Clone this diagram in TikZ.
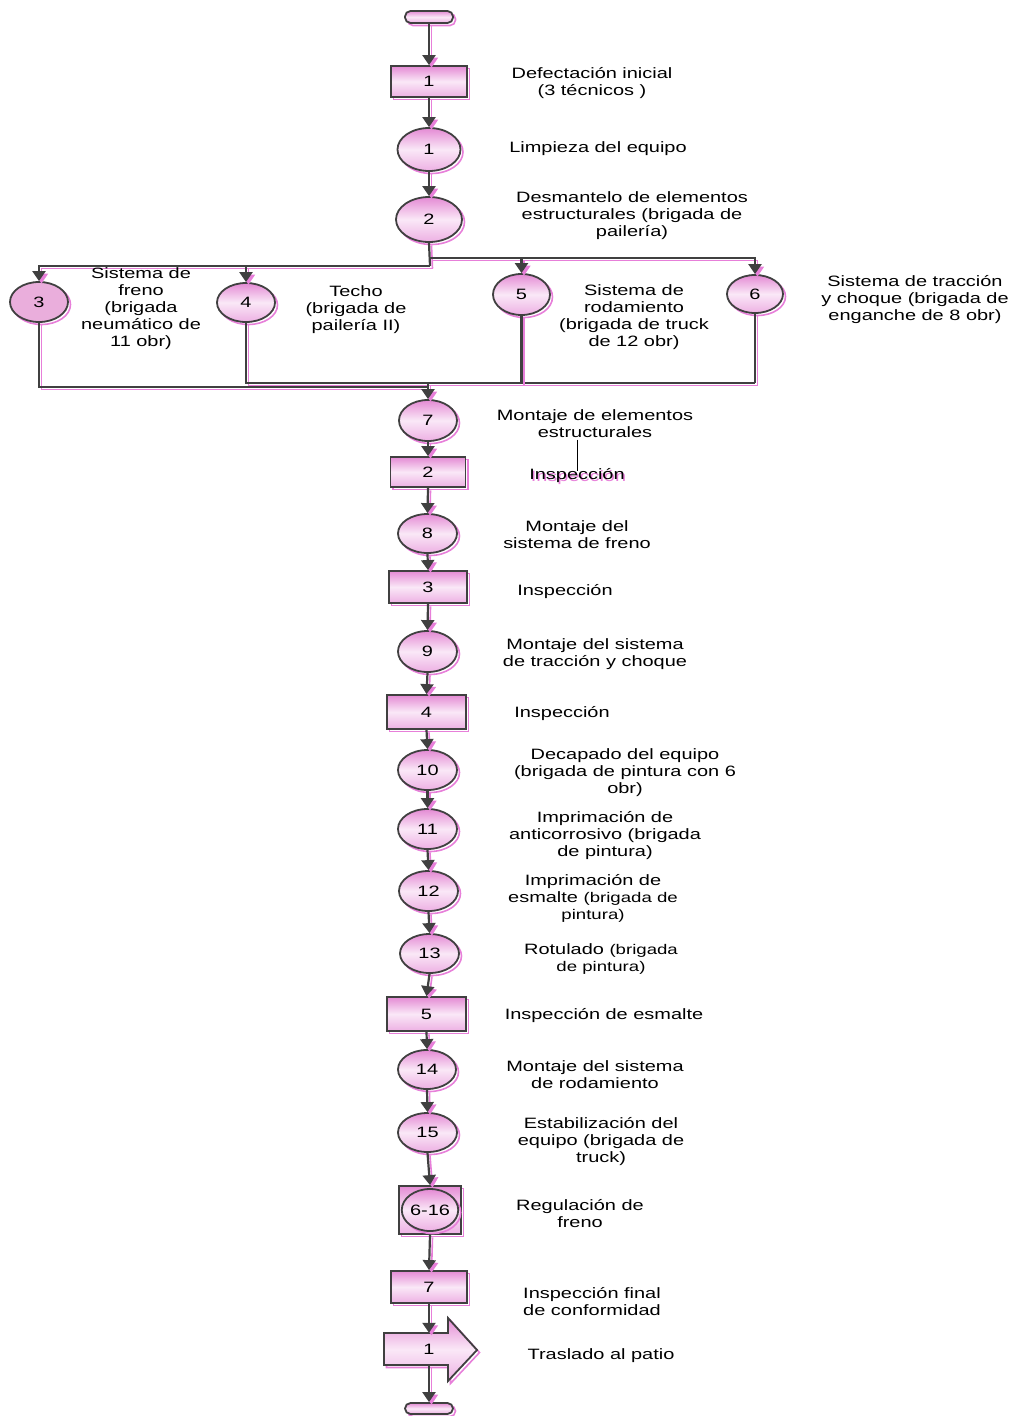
\documentclass[tikz,border=0pt]{standalone}
\usepackage{fontspec}
\setmainfont{Liberation Sans}[FakeStretch=1.33]
\usetikzlibrary{shapes.geometric,arrows.meta,shadows}
\definecolor{lc}{HTML}{404040}
\definecolor{shpk}{HTML}{E77FD9}
\definecolor{pkTop}{HTML}{E48AD4}
\definecolor{pkMid}{HTML}{FAE8F7}
\definecolor{pkBot}{HTML}{EDB0E3}
\definecolor{pkDark}{HTML}{EAAEDC}
\newcommand\lblfont{\fontsize{15}{17}\selectfont}
\newcommand\smf{\fontsize{14}{17}\selectfont}
\tikzset{
  shadowline/.style={general shadow={shadow xshift=2.5pt, shadow yshift=-2.5pt, draw=shpk, line width=1.6pt}},
  pk/.style={draw=lc, line width=1.8pt, top color=pkTop, bottom color=pkBot, middle color=pkMid, shadowline, inner sep=0, font=\lblfont},
  ell/.style={pk, ellipse, minimum width=59pt, minimum height=40pt},
  box/.style={pk, rectangle, minimum width=76pt, minimum height=31pt},
  term/.style={pk, rectangle, rounded corners=5.5pt, minimum width=48pt, minimum height=12pt},
  lbl/.style={align=center, inner sep=0, font=\lblfont, yshift=-2pt},
  arr/.style={draw=lc, line width=2.2pt, -{Triangle[length=10pt,width=13pt]}},
  plain/.style={draw=lc, line width=2.2pt},
}
\newcommand\lnk[2]{%
  \begin{scope}[transform canvas={shift={(2.5pt,-2.5pt)}}]\draw[#1,draw=shpk,line width=1.6pt] #2;\end{scope}
  \draw[#1] #2;}
\begin{document}
\begin{tikzpicture}[x=1pt,y=-1pt]
\useasboundingbox (0,0) rectangle (1013,1416);
% main column nodes
\node[term] (t1) at (429,17) {};
\node[box] (b1) at (429,81.5) {1};
\node[ell, minimum width=63pt, minimum height=43pt] (e1) at (429,149.5) {1};
\node[ell, minimum width=66pt, minimum height=45pt] (e2) at (429,219.5) {2};
\node[ell, minimum width=58pt, minimum height=40pt, top color=pkDark, middle color=pkDark!85!white, bottom color=pkDark] (e3) at (39,302) {3};
\node[ell, minimum width=58pt, minimum height=39pt] (e4) at (246,302.5) {4};
\node[ell, minimum width=57pt, minimum height=41pt] (e5) at (521.5,294.5) {5};
\node[ell, minimum width=56pt, minimum height=38pt] (e6) at (755,294) {6};
\node[ell, minimum width=58pt, minimum height=41pt] (e7) at (428,420.5) {7};
\node[box, minimum width=75pt, minimum height=30pt] (b2) at (428,472) {2};
\node[ell, minimum height=39pt] (e8) at (427.5,533.5) {8};
\node[box, minimum width=78pt, minimum height=32pt] (b3) at (428,587) {3};
\node[ell, minimum height=41pt] (e9) at (427.5,651.5) {9};
\node[box, minimum width=79pt, minimum height=34pt] (b4) at (426.5,712) {4};
\node[ell] (e10) at (427.5,770) {10};
\node[ell] (e11) at (427.5,829) {11};
\node[ell] (e12) at (428.5,891) {12};
\node[ell, minimum height=39pt] (e13) at (429.5,953.5) {13};
\node[box, minimum width=79pt, minimum height=34pt] (b5) at (426.5,1014) {5};
\node[ell, minimum width=58pt, minimum height=39pt] (e14) at (427,1069.5) {14};
\node[ell, minimum height=39pt] (e15) at (427.5,1132.5) {15};
\node[box, minimum width=62pt, minimum height=48pt] (b616) at (430,1210) {};
\node[ell, minimum width=56pt, minimum height=42pt] (e616) at (430,1210) {6-16};
\node[box, minimum height=32pt] (b7) at (429,1287) {7};
\path[pk] (384,1333) -- (448,1333) -- (448,1318) -- (477,1350) -- (448,1381) -- (448,1365) -- (384,1365) -- cycle;
\node[inner sep=0, minimum width=64pt, minimum height=32pt, font=\lblfont] (ar) at (429,1349) {1};
\node[term, minimum height=11pt] (t2) at (429,1408.5) {};
% junctions
\coordinate (j1) at (430,266);
\coordinate (j2) at (430,258);
\coordinate (m1) at (428,387);
\coordinate (m2) at (428,383);
% connectors
\lnk{arr}{(t1.south) -- (b1.north)}
\lnk{arr}{(b1.south) -- (e1.north)}
\lnk{arr}{(e1.south) -- (e2.north)}
\lnk{plain}{(e2.south) -- (j1)}
\lnk{arr}{(j1) -| (e3.north)}
\lnk{arr}{(e4.north |- j1) -- (e4.north)}
\lnk{arr}{(j2) -| (e6.north)}
\lnk{arr}{(e5.north |- j2) -- (e5.north)}
\lnk{plain}{(e3.south) |- (m1)}
\lnk{plain}{(e4.south) |- (e6.south |- m2)}
\lnk{plain}{(e6.south) -- (e6.south |- m2)}
\lnk{plain}{(e5.south) -- (e5.south |- m2)}
\lnk{arr}{(e7.north |- m2) -- (e7.north)}
\lnk{arr}{(e7.south) -- (b2.north)}
\lnk{arr}{(b2.south) -- (e8.north)}
\lnk{arr}{(e8.south) -- (b3.north)}
\lnk{arr}{(b3.south) -- (e9.north)}
\lnk{arr}{(e9.south) -- (b4.north)}
\lnk{arr}{(b4.south) -- (e10.north)}
\lnk{arr}{(e10.south) -- (e11.north)}
\lnk{arr}{(e11.south) -- (e12.north)}
\lnk{arr}{(e12.south) -- (e13.north)}
\lnk{arr}{(e13.south) -- (b5.north)}
\lnk{arr}{(b5.south) -- (e14.north)}
\lnk{arr}{(e14.south) -- (e15.north)}
\lnk{arr}{(e15.south) -- (b616.north)}
\lnk{arr}{(b616.south) -- (b7.north)}
\lnk{arr}{(b7.south) -- (ar.north)}
\lnk{arr}{(ar.south) -- (t2.north)}
% labels
\node[lbl] (L1) at (592,81.5) {Defectación inicial\\(3 técnicos )};
\node[lbl] (L2) at (598,147) {Limpieza del equipo};
\node[lbl] (L3) at (632,214) {Desmantelo de elementos\\estructurales (brigada de\\pailería)};
\node[lbl] (L4) at (141,306.5) {Sistema de\\freno\\(brigada\\neumático de\\11 obr)};
\node[lbl] (L5) at (356,308) {Techo\\(brigada de\\pailería II)};
\node[lbl] (L6) at (634,315.5) {Sistema de\\rodamiento\\(brigada de truck\\de 12 obr)};
\node[lbl] (L7) at (915,298) {Sistema de tracción\\y choque (brigada de\\enganche de 8 obr)};
\node[lbl] (L8) at (595,421.5) {Montaje de elementos\\estructurales};
\node[lbl, text=shpk] at (578.5,476) {Inspección};
\node[lbl] (L9) at (577,474) {Inspección};
\draw[line width=1pt, black] (L9.north |- L8.south) ++(0,2) -- ([yshift=-2pt]L9.north);
\node[lbl] (L10) at (577,533) {Montaje del\\sistema de freno};
\node[lbl] (L11) at (565,590) {Inspección};
\node[lbl] (L12) at (595,652.5) {Montaje del sistema\\de tracción y choque};
\node[lbl] (L13) at (562,712) {Inspección};
\node[lbl] (L14) at (625,770.5) {Decapado del equipo\\(brigada de pintura con 6\\obr)};
\node[lbl] (L15) at (605,833.5) {Imprimación de\\anticorrosivo (brigada\\de pintura)};
\node[lbl] (L16) at (593,896.5) {Imprimación de\\esmalte {\smf(brigada de}\\{\smf pintura)}};
\node[lbl] (L17) at (601,957.5) {Rotulado {\smf(brigada}\\{\smf de pintura)}};
\node[lbl] (L18) at (604,1014) {Inspección de esmalte};
\node[lbl] (L19) at (595,1072.5) {Montaje del sistema\\de rodamiento};
\node[lbl] (L20) at (601,1140) {Estabilización del\\equipo (brigada de\\truck)};
\node[lbl] (L21) at (580,1211.5) {Regulación de\\freno};
\node[lbl] (L22) at (592,1299.5) {Inspección final\\de conformidad};
\node[lbl] (L23) at (601,1354) {Traslado al patio};
\end{tikzpicture}
\end{document}
